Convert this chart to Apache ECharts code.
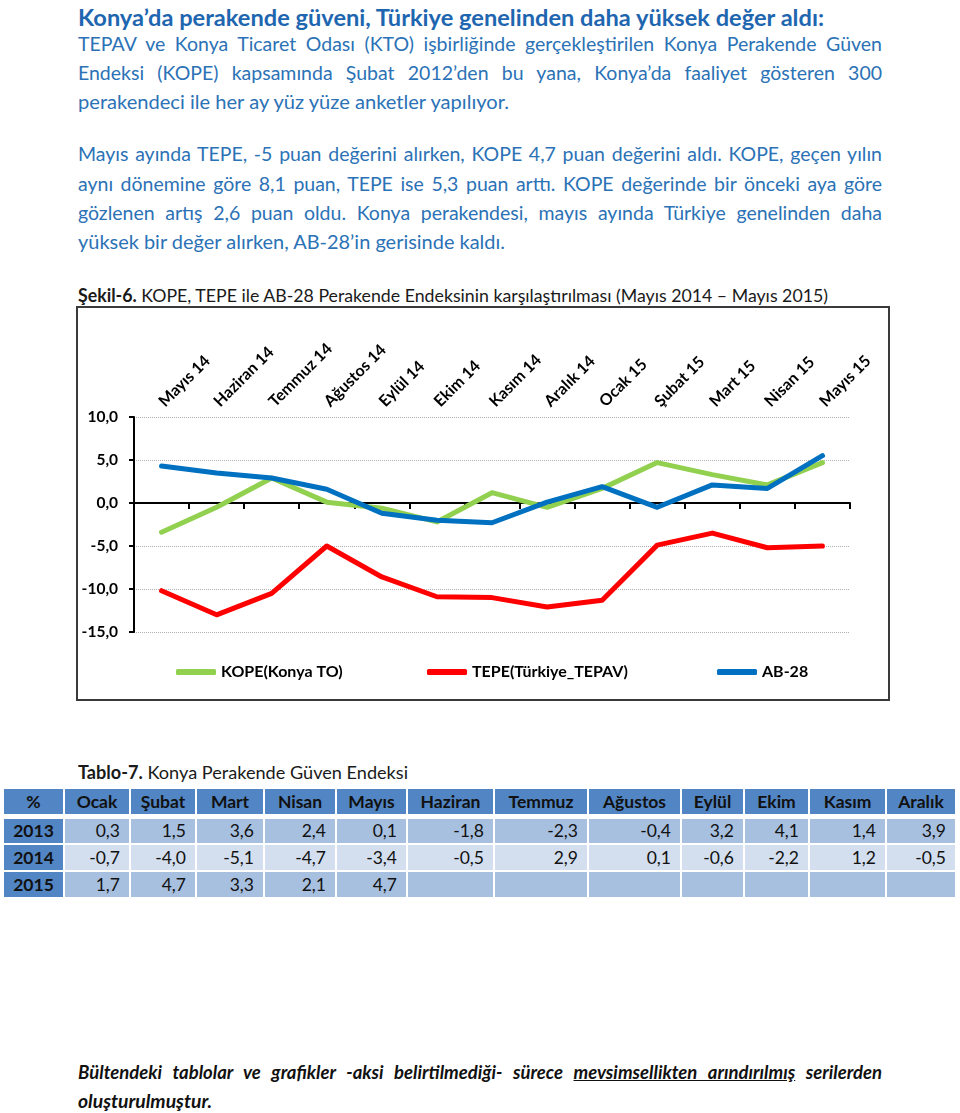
<!DOCTYPE html>
<html><head><meta charset="utf-8">
<script src="https://cdn.jsdelivr.net/npm/echarts@6/dist/echarts.min.js"></script>
<style>
html,body{margin:0;padding:0}
body{width:960px;height:1113px;position:relative;background:#fff;font-family:Lato,'Open Sans',sans-serif;overflow:hidden}
.l{position:absolute;line-height:26px;height:26px;white-space:nowrap;transform-origin:0 50%}
.c{position:absolute;box-sizing:border-box;line-height:25px;font-size:17.5px;color:#111;white-space:nowrap;overflow:hidden}
</style></head><body>
<div id="chart" style="position:absolute;left:78px;top:308px;width:810px;height:391px;outline:2px solid #3a3a3a"></div>
<script>
// ---- chart data ----
const categories = ['Mayıs 14','Haziran 14','Temmuz 14','Ağustos 14','Eylül 14','Ekim 14','Kasım 14','Aralık 14','Ocak 15','Şubat 15','Mart 15','Nisan 15','Mayıs 15'];
const kopeSeries = [-3.4,-0.5,2.9,0.1,-0.6,-2.2,1.2,-0.5,1.7,4.7,3.3,2.1,4.7];
const tepeSeries = [-10.2,-13.0,-10.5,-5.0,-8.6,-10.9,-11.0,-12.1,-11.3,-4.9,-3.5,-5.2,-5.0];
const ab28Series = [4.3,3.5,2.9,1.6,-1.2,-2.0,-2.3,0.1,1.9,-0.5,2.1,1.7,5.5];
const seriesNames = ['KOPE(Konya TO)','TEPE(Türkiye_TEPAV)','AB-28'];
const yMin = -15, yMax = 10, yStep = 5;

// ---- table data ----
const tableMonths = ['Ocak','Şubat','Mart','Nisan','Mayıs','Haziran','Temmuz','Ağustos','Eylül','Ekim','Kasım','Aralık'];
const tableYears = ['2013','2014','2015'];
const kope2013 = ['0,3','1,5','3,6','2,4','0,1','-1,8','-2,3','-0,4','3,2','4,1','1,4','3,9'];
const kope2014 = ['-0,7','-4,0','-5,1','-4,7','-3,4','-0,5','2,9','0,1','-0,6','-2,2','1,2','-0,5'];
const kope2015 = ['1,7','4,7','3,3','2,1','4,7','','','','','','',''];

// ---- text layout ----
const lines = [];
function place(html, o){
  const d = document.createElement('div');
  d.className = 'l';
  d.style.left = (o.x||78)+'px';
  d.style.top = (o.cy-13)+'px';
  d.style.fontSize = o.size+'px';
  d.style.color = o.color || '#1a1a1a';
  if (o.bold) d.style.fontWeight = 'bold';
  if (o.italic) d.style.fontStyle = 'italic';
  d.innerHTML = '<span>'+html+'</span>';
  document.body.appendChild(d);
  lines.push([d,o]);
}
function fit(){
  for (const [d,o] of lines){
    d.style.transform=''; d.style.width='auto'; d.style.whiteSpace='nowrap';
    d.style.textAlign='left'; d.style.textAlignLast='auto';
    const nat = d.firstChild.getBoundingClientRect().width;
    if (o.justify){
      if (nat <= o.w){
        d.style.width = o.w+'px'; d.style.whiteSpace='normal';
        d.style.textAlign='justify'; d.style.textAlignLast='justify';
      } else {
        d.style.width = (nat+1)+'px';
        d.style.transform = 'scaleX('+(o.w/(nat+1))+')';
      }
    } else {
      let r = o.w/nat; r = Math.max(0.8, Math.min(1.2, r));
      d.style.transform = 'scaleX('+r+')';
    }
  }
}
const TC = '#1E66B0', PC = '#2B72B6';
place('Konya’da perakende güveni, Türkiye genelinden daha yüksek değer aldı:', {cy:18, w:746, size:22, bold:true, color:TC});
place('TEPAV ve Konya Ticaret Odası (KTO) işbirliğinde gerçekleştirilen Konya Perakende Güven', {cy:44, w:804, size:19.5, justify:true, color:PC});
place('Endeksi (KOPE) kapsamında Şubat 2012’den bu yana, Konya’da faaliyet gösteren 300', {cy:73, w:804, size:19.5, justify:true, color:PC});
place('perakendeci ile her ay yüz yüze anketler yapılıyor.', {cy:102, w:431, size:19.5, color:PC});
place('Mayıs ayında TEPE, -5 puan değerini alırken, KOPE 4,7 puan değerini aldı. KOPE, geçen yılın', {cy:154, w:804, size:19.5, justify:true, color:PC});
place('aynı dönemine göre 8,1 puan, TEPE ise 5,3 puan arttı. KOPE değerinde bir önceki aya göre', {cy:184, w:804, size:19.5, justify:true, color:PC});
place('gözlenen artış 2,6 puan oldu. Konya perakendesi, mayıs ayında Türkiye genelinden daha', {cy:213, w:804, size:19.5, justify:true, color:PC});
place('yüksek bir değer alırken, AB-28’in gerisinde kaldı.', {cy:242, w:427, size:19.5, color:PC});
place('<b>Şekil-6.</b> KOPE, TEPE ile AB-28 Perakende Endeksinin karşılaştırılması (Mayıs 2014 – Mayıs 2015)', {cy:295, w:750, size:18});
place('<b>Tablo-7.</b> Konya Perakende Güven Endeksi', {cy:772, w:330, size:18});
place('Bültendeki tablolar ve grafikler -aksi belirtilmediği- sürece <u>mevsimsellikten arındırılmış</u> serilerden', {cy:1072, w:804, size:18.5, justify:true, bold:true, italic:true, color:'#111'});
place('oluşturulmuştur.', {cy:1101, w:134, size:18.5, bold:true, italic:true, color:'#111'});
fit();
if (document.fonts && document.fonts.ready) document.fonts.ready.then(fit);

// ---- table ----
const colEdges = [[4,63],[65,129],[131,195],[197,263],[265,335],[337,406],[408,493],[495,587],[589,680],[682,743],[745,808],[810,885],[887,955]];
const rowEdges = [[789,814],[819,843],[845,870],[872,897]];
const HEAD = '#5285C3', ROWA = '#A8C0DF', ROWB = '#D3DFEE';
function cell(text, ci, ri, bg, opts){
  const d = document.createElement('div');
  d.className = 'c';
  const [x0,x1] = colEdges[ci], [y0,y1] = rowEdges[ri];
  d.style.left = x0+'px'; d.style.top = y0+'px';
  d.style.width = (x1-x0)+'px'; d.style.height = (y1-y0)+'px';
  d.style.lineHeight = (y1-y0)+'px';
  d.style.background = bg;
  if (opts.bold) d.style.fontWeight = 'bold';
  d.style.textAlign = opts.align;
  if (opts.align==='right') d.style.paddingRight = '9px';
  d.textContent = text;
  document.body.appendChild(d);
}
cell('%', 0, 0, HEAD, {bold:true, align:'center'});
tableMonths.forEach((m,i)=>cell(m, i+1, 0, HEAD, {bold:true, align:'center'}));
[kope2013, kope2014, kope2015].forEach((row, r)=>{
  cell(tableYears[r], 0, r+1, HEAD, {bold:true, align:'center'});
  const bg = r===1 ? ROWB : ROWA;
  row.forEach((v,i)=>cell(v, i+1, r+1, bg, {align:'right'}));
});

// ---- chart ----
const FF = 'Lato, sans-serif';
const chart = echarts.init(document.getElementById('chart'), null, {renderer:'canvas'});
const colors = ['#92D050','#FF0000','#0070C0'];
const dataSets = [kopeSeries, tepeSeries, ab28Series];
const legendLeft = [98, 349, 639];
chart.setOption({
  animation:false,
  textStyle:{fontFamily:FF},
  grid:{left:56, right:38, top:109, bottom:67, containLabel:false, outerBoundsMode:'none'},
  xAxis:[
    {type:'category', data:categories, position:'top', boundaryGap:true,
     axisLine:{show:false, onZero:false}, axisTick:{show:false}, splitLine:{show:false},
     axisLabel:{rotate:-45, interval:0, margin:13, fontWeight:'bold', fontSize:16, color:'#000', fontFamily:FF}},
    {type:'category', data:categories, position:'bottom', boundaryGap:true,
     axisLine:{show:true, onZero:true, lineStyle:{color:'#000', width:2}},
     axisTick:{show:true, inside:false, length:6, interval:0, lineStyle:{color:'#000', width:2}},
     axisLabel:{show:false}, splitLine:{show:false}}
  ],
  yAxis:{type:'value', min:yMin, max:yMax, interval:yStep,
    axisLine:{show:true, lineStyle:{color:'#000', width:2}},
    axisTick:{show:true, length:5, lineStyle:{color:'#000', width:2}},
    axisLabel:{formatter:v=>v.toFixed(1).replace('.',','), fontWeight:'bold', fontSize:15.5, color:'#000', margin:16, fontFamily:FF},
    splitLine:{show:true, lineStyle:{type:'dotted', color:'#b0b0b0', width:1}}},
  legend: seriesNames.map((n,i)=>({
    data:[n], left:legendLeft[i], top:356, padding:0, icon:'roundRect', itemWidth:40, itemHeight:6,
    textStyle:{fontWeight:'bold', fontSize:16, color:'#000', fontFamily:FF}
  })),
  series: seriesNames.map((n,i)=>({
    name:n, type:'line', data:dataSets[i], xAxisIndex:0, showSymbol:false, symbol:'none',
    lineStyle:{width:5, color:colors[i], cap:'round', join:'round'}, itemStyle:{color:colors[i]}
  }))
});
</script>
</body></html>
